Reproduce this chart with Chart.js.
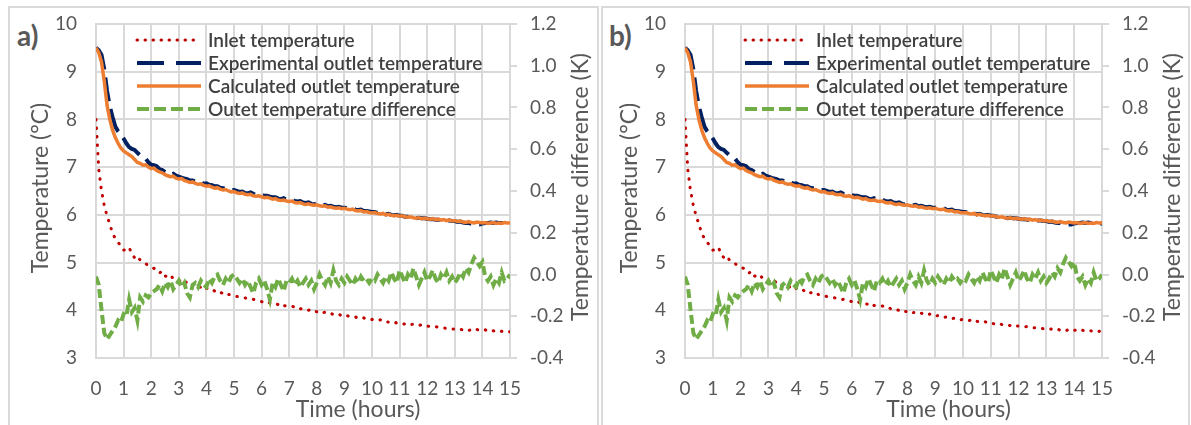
<!DOCTYPE html>
<html>
<head>
<meta charset="utf-8">
<script src="https://cdn.jsdelivr.net/npm/chart.js@4.4.1/dist/chart.umd.min.js"></script>
<style>
  body { margin: 0; background: #fff; width: 1191px; height: 425px; overflow: hidden; position: relative; }
  .panel { position: absolute; top: 6px; height: 440px; border: 2px solid #d9d9d9; box-sizing: border-box; }
  .tag { position: absolute; font: bold 28px Lato, sans-serif; color: #595959; }
  canvas { position: absolute; }
</style>
</head>
<body>
<div class="panel" style="left:8px;width:591px"></div>
<div class="panel" style="left:601px;width:589px"></div>
<div class="tag" style="left:17px;top:18px">a)</div>
<div class="tag" style="left:609px;top:18px">b)</div>
<canvas id="chart-a" width="585" height="417" style="left:10px;top:8px"></canvas>
<canvas id="chart-b" width="590" height="417" style="left:599px;top:8px"></canvas>
<script>
// time axis (hours), one reading every 6 minutes
const hours = [
  0, 0.1, 0.2, 0.3, 0.4, 0.5, 0.6, 0.7, 0.8, 0.9,
  1, 1.1, 1.2, 1.3, 1.4, 1.5, 1.6, 1.7, 1.8, 1.9,
  2, 2.1, 2.2, 2.3, 2.4, 2.5, 2.6, 2.7, 2.8, 2.9,
  3, 3.1, 3.2, 3.3, 3.4, 3.5, 3.6, 3.7, 3.8, 3.9,
  4, 4.1, 4.2, 4.3, 4.4, 4.5, 4.6, 4.7, 4.8, 4.9,
  5, 5.1, 5.2, 5.3, 5.4, 5.5, 5.6, 5.7, 5.8, 5.9,
  6, 6.1, 6.2, 6.3, 6.4, 6.5, 6.6, 6.7, 6.8, 6.9,
  7, 7.1, 7.2, 7.3, 7.4, 7.5, 7.6, 7.7, 7.8, 7.9,
  8, 8.1, 8.2, 8.3, 8.4, 8.5, 8.6, 8.7, 8.8, 8.9,
  9, 9.1, 9.2, 9.3, 9.4, 9.5, 9.6, 9.7, 9.8, 9.9,
  10, 10.1, 10.2, 10.3, 10.4, 10.5, 10.6, 10.7, 10.8, 10.9,
  11, 11.1, 11.2, 11.3, 11.4, 11.5, 11.6, 11.7, 11.8, 11.9,
  12, 12.1, 12.2, 12.3, 12.4, 12.5, 12.6, 12.7, 12.8, 12.9,
  13, 13.1, 13.2, 13.3, 13.4, 13.5, 13.6, 13.7, 13.8, 13.9,
  14, 14.1, 14.2, 14.3, 14.4, 14.5, 14.6, 14.7, 14.8, 14.9,
  15
];

const inletTemp = [
  8.00, 6.95, 6.50, 6.20, 5.98, 5.80, 5.62, 5.50, 5.42, 5.36,
  5.26, 5.28, 5.32, 5.18, 5.10, 5.14, 5.05, 5.00, 4.98, 4.93,
  4.90, 4.88, 4.85, 4.78, 4.82, 4.72, 4.70, 4.74, 4.66, 4.65,
  4.62, 4.60, 4.64, 4.56, 4.57, 4.52, 4.55, 4.50, 4.48, 4.52,
  4.46, 4.44, 4.45, 4.40, 4.42, 4.37, 4.36, 4.38, 4.33, 4.33,
  4.30, 4.29, 4.28, 4.27, 4.26, 4.24, 4.22, 4.23, 4.21, 4.20,
  4.18, 4.17, 4.19, 4.15, 4.16, 4.14, 4.12, 4.15, 4.10, 4.09,
  4.08, 4.09, 4.06, 4.07, 4.03, 4.04, 4.01, 4.00, 4.02, 3.98,
  3.97, 3.99, 3.95, 3.96, 3.93, 3.94, 3.91, 3.90, 3.92, 3.88,
  3.87, 3.89, 3.86, 3.85, 3.86, 3.83, 3.82, 3.84, 3.81, 3.80,
  3.81, 3.79, 3.78, 3.80, 3.76, 3.77, 3.75, 3.74, 3.76, 3.73,
  3.74, 3.72, 3.71, 3.73, 3.70, 3.71, 3.69, 3.68, 3.70, 3.67,
  3.67, 3.66, 3.65, 3.66, 3.64, 3.64, 3.63, 3.62, 3.63, 3.61,
  3.61, 3.62, 3.60, 3.59, 3.61, 3.58, 3.59, 3.57, 3.60, 3.57,
  3.58, 3.59, 3.56, 3.58, 3.57, 3.55, 3.57, 3.56, 3.54, 3.56,
  3.55
];

const expOutletTemp = [
  9.50, 9.45, 9.35, 9.05, 8.60, 8.27, 8.05, 7.85, 7.75, 7.68,
  7.60, 7.50, 7.42, 7.38, 7.36, 7.30, 7.25, 7.22, 7.18, 7.10,
  7.05, 7.04, 7.02, 6.96, 6.94, 6.90, 6.88, 6.84, 6.86, 6.82,
  6.80, 6.78, 6.76, 6.75, 6.72, 6.72, 6.70, 6.67, 6.69, 6.65,
  6.66, 6.63, 6.62, 6.60, 6.60, 6.57, 6.56, 6.56, 6.53, 6.52,
  6.52, 6.50, 6.48, 6.49, 6.46, 6.45, 6.47, 6.44, 6.42, 6.43,
  6.41, 6.40, 6.40, 6.38, 6.37, 6.37, 6.34, 6.33, 6.35, 6.32,
  6.31, 6.32, 6.29, 6.28, 6.29, 6.26, 6.25, 6.26, 6.23, 6.22,
  6.24, 6.20, 6.20, 6.21, 6.18, 6.19, 6.17, 6.16, 6.17, 6.15,
  6.15, 6.14, 6.13, 6.14, 6.11, 6.10, 6.11, 6.08, 6.08, 6.07,
  6.06, 6.06, 6.04, 6.03, 6.04, 6.01, 6.02, 6.00, 5.99, 6.00,
  5.98, 5.98, 5.96, 5.96, 5.96, 5.95, 5.93, 5.94, 5.93, 5.93,
  5.92, 5.91, 5.91, 5.90, 5.90, 5.89, 5.89, 5.88, 5.88, 5.87,
  5.87, 5.85, 5.86, 5.84, 5.83, 5.83, 5.81, 5.79, 5.80, 5.80,
  5.82, 5.83, 5.83, 5.84, 5.83, 5.84, 5.83, 5.83, 5.83, 5.82,
  5.82
];

const calcOutletTemp = [
  9.50, 9.40, 9.20, 8.80, 8.30, 8.00, 7.78, 7.62, 7.50, 7.40,
  7.34, 7.30, 7.26, 7.22, 7.16, 7.10, 7.08, 7.04, 7.05, 7.00,
  6.97, 6.98, 6.93, 6.90, 6.88, 6.84, 6.82, 6.80, 6.81, 6.77,
  6.75, 6.76, 6.72, 6.70, 6.68, 6.69, 6.66, 6.64, 6.65, 6.62,
  6.60, 6.61, 6.58, 6.56, 6.57, 6.54, 6.52, 6.53, 6.50, 6.48,
  6.49, 6.46, 6.45, 6.46, 6.43, 6.42, 6.43, 6.40, 6.39, 6.40,
  6.38, 6.36, 6.37, 6.35, 6.33, 6.34, 6.31, 6.30, 6.31, 6.29,
  6.28, 6.29, 6.26, 6.25, 6.26, 6.23, 6.22, 6.23, 6.21, 6.20,
  6.21, 6.19, 6.18, 6.19, 6.16, 6.17, 6.15, 6.14, 6.15, 6.13,
  6.14, 6.12, 6.11, 6.12, 6.09, 6.08, 6.09, 6.06, 6.07, 6.05,
  6.04, 6.05, 6.03, 6.02, 6.03, 6.00, 6.01, 5.99, 5.98, 5.99,
  5.97, 5.98, 5.96, 5.95, 5.96, 5.94, 5.93, 5.94, 5.92, 5.93,
  5.92, 5.91, 5.92, 5.90, 5.91, 5.89, 5.90, 5.88, 5.89, 5.87,
  5.88, 5.86, 5.87, 5.85, 5.84, 5.86, 5.84, 5.83, 5.85, 5.84,
  5.83, 5.84, 5.82, 5.83, 5.84, 5.82, 5.83, 5.82, 5.84, 5.83,
  5.83
];

// right axis (K)
const outletDiff = [
  -0.01, -0.05, -0.17, -0.28, -0.31, -0.29, -0.27, -0.25, -0.22, -0.23,
  -0.19, -0.20, -0.12, -0.18, -0.16, -0.22, -0.11, -0.13, -0.10, -0.11,
  -0.09, -0.08, -0.07, -0.05, -0.08, -0.04, -0.06, -0.03, -0.07, -0.05,
  -0.03, -0.06, -0.04, -0.09, -0.11, -0.05, -0.04, -0.06, -0.03, -0.05,
  -0.06, -0.02, -0.04, -0.01, 0.00, -0.03, -0.05, -0.02, -0.04, -0.01,
  0.00, -0.02, -0.04, -0.02, -0.05, -0.03, -0.06, -0.09, -0.04, -0.02,
  -0.05, -0.03, -0.07, -0.12, -0.04, -0.06, -0.02, -0.05, -0.08, -0.03,
  -0.04, -0.02, -0.05, -0.03, -0.06, -0.04, -0.02, -0.05, -0.03, -0.07,
  -0.04, 0.00, -0.03, -0.05, -0.01, -0.04, 0.02, -0.03, -0.05, -0.02,
  -0.04, -0.01, -0.03, -0.05, -0.02, -0.04, -0.01, -0.03, -0.02, -0.04,
  -0.02, -0.03, 0.00, -0.02, -0.04, -0.01, -0.03, 0.01, -0.02, -0.04,
  0.02, -0.01, -0.04, 0.00, -0.02, 0.03, -0.01, -0.05, -0.02, 0.01,
  -0.03, -0.01, 0.02, -0.02, -0.04, 0.00, -0.02, 0.01, -0.03, -0.01,
  -0.04, -0.02, 0.01, -0.01, 0.03, 0.01, 0.05, 0.08, 0.06, 0.04,
  0.06, -0.01, -0.03, -0.01, -0.05, -0.02, -0.04, 0.01, -0.03, -0.02,
  0.00
];

const leftTitle = 'Temperature (°C)';
const rightTitle = 'Temperature difference (K)';
const xTitle = 'Time (hours)';

const gray = '#595959';
const gridGray = '#d9d9d9';

function points(values) {
  return hours.map((h, i) => ({ x: h, y: values[i] }));
}

// the axes should not push the plot area around, sizes are fixed here
function fixSize(prop, size) {
  return s => {
    s[prop] = size;
    s.paddingTop = 0;
    s.paddingBottom = 0;
    s.paddingLeft = 0;
    s.paddingRight = 0;
  };
}

// legend, rotated axis titles and x title are drawn here
const panelText = {
  id: 'panelText',
  afterDraw(chart, args, opts) {
    const { ctx, chartArea } = chart;
    const { left, right, top, bottom } = chartArea;
    ctx.save();

    // legend rows
    const sx = left + opts.legendX;
    chart.data.datasets.forEach((ds, i) => {
      const y = top + 16 + i * 23;
      ctx.save();
      ctx.strokeStyle = ds.borderColor;
      ctx.lineWidth = ds.borderWidth;
      ctx.lineCap = ds.borderCapStyle || 'butt';
      ctx.setLineDash(ds.legendDash || []);
      ctx.beginPath();
      ctx.moveTo(sx, y);
      ctx.lineTo(sx + 64, y);
      ctx.stroke();
      ctx.restore();
      ctx.fillStyle = '#404040';
      ctx.font = '600 19px Lato, sans-serif';
      ctx.textBaseline = 'middle';
      ctx.textAlign = 'left';
      ctx.fillText(ds.label, sx + 71, y + 1);
    });

    ctx.fillStyle = gray;
    ctx.font = '23px Lato, sans-serif';
    ctx.textAlign = 'center';
    ctx.textBaseline = 'middle';

    // left title
    ctx.save();
    ctx.translate(left - 55, (top + bottom) / 2 - 3);
    ctx.rotate(-Math.PI / 2);
    ctx.fillText(leftTitle, 0, 0);
    ctx.restore();

    // right title, reads bottom to top
    ctx.save();
    ctx.translate(right + 71, (top + bottom) / 2 - 4);
    ctx.rotate(-Math.PI / 2);
    ctx.fillText(rightTitle, 0, 0);
    ctx.restore();

    // x title
    ctx.fillText(xTitle, (left + right) / 2 + 55, bottom + 52);
    ctx.restore();
  }
};

function makeChart(id, legendX, rightWidth) {
  const ctx = document.getElementById(id).getContext('2d');
  return new Chart(ctx, {
    type: 'line',
    data: {
      datasets: [
        {
          label: 'Inlet temperature',
          data: points(inletTemp),
          yAxisID: 'y',
          borderColor: '#c00000',
          borderWidth: 3,
          borderDash: [0.5, 8],
          legendDash: [0.5, 7.5],
          borderCapStyle: 'round',
          order: 2
        },
        {
          label: 'Experimental outlet temperature',
          data: points(expOutletTemp),
          yAxisID: 'y',
          borderColor: '#002060',
          borderWidth: 4,
          borderDash: [24, 8],
          legendDash: [27, 12],
          order: 4
        },
        {
          label: 'Calculated outlet temperature',
          data: points(calcOutletTemp),
          yAxisID: 'y',
          borderColor: '#ed7d31',
          borderWidth: 3.5,
          order: 3
        },
        {
          label: 'Outet temperature difference',
          data: points(outletDiff),
          yAxisID: 'y2',
          borderColor: '#70ad47',
          borderWidth: 4,
          borderDash: [9, 4],
          legendDash: [12, 5],
          order: 1
        }
      ]
    },
    options: {
      responsive: false,
      animation: false,
      events: [],
      layout: { padding: { top: 16, left: 0, right: 0, bottom: 0 } },
      elements: { point: { radius: 0 }, line: { tension: 0 } },
      plugins: {
        legend: { display: false },
        tooltip: { enabled: false },
        panelText: { legendX: legendX }
      },
      scales: {
        x: {
          type: 'linear',
          min: 0,
          max: 15,
          ticks: {
            stepSize: 1,
            autoSkip: false,
            maxRotation: 0,
            padding: 19,
            color: gray,
            font: { family: 'Lato', size: 19 }
          },
          grid: { color: gridGray, lineWidth: 2, drawTicks: false },
          border: { color: gridGray, width: 2 },
          afterFit: fixSize('height', 67)
        },
        y: {
          position: 'left',
          min: 3,
          max: 10,
          ticks: {
            stepSize: 1,
            padding: 19,
            color: gray,
            font: { family: 'Lato', size: 19 }
          },
          grid: { color: gridGray, lineWidth: 2, drawTicks: false },
          border: { color: gridGray, width: 2 },
          afterFit: fixSize('width', 86)
        },
        y2: {
          position: 'right',
          min: -0.4,
          max: 1.2,
          ticks: {
            stepSize: 0.2,
            padding: 13,
            color: gray,
            font: { family: 'Lato', size: 19 },
            callback: v => v.toFixed(1)
          },
          grid: { drawOnChartArea: false, color: gridGray, lineWidth: 2, tickLength: 7 },
          border: { color: gridGray, width: 2 },
          afterFit: fixSize('width', rightWidth)
        }
      }
    },
    plugins: [panelText]
  });
}

window.addEventListener('load', () => {
  makeChart('chart-a', 41, 85);
  makeChart('chart-b', 60, 87);
});
</script>
</body>
</html>
